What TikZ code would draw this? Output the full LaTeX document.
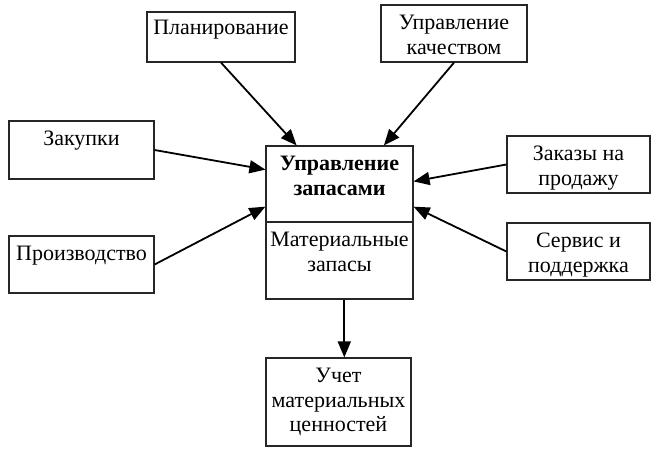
\documentclass[tikz,border=0pt]{standalone}
\usepackage{fontspec}
\setmainfont{Liberation Serif}
\usetikzlibrary{arrows.meta}

\begin{document}
\begin{tikzpicture}[
  x=0.5pt, y=-0.5pt,
  box/.style={draw=black!85, line width=0.6pt, inner sep=0pt},
  txt/.style={anchor=north, align=center, inner sep=5.2pt, font=\fontsize{11}{12.3}\selectfont},
  arr/.style={-{Triangle[length=8pt, width=6.5pt]}, line width=0.9pt}
]
  \useasboundingbox (0,0) rectangle (658,451);

  \node[box, minimum width=74pt, minimum height=25pt, label={[txt, inner sep=4.2pt]north:Планирование}] (plan) at (221,37) {};
  \node[box, minimum width=73pt, minimum height=28.5pt, label={[txt]north:Управление\\качеством}] (kach) at (454,33.5) {};
  \node[box, minimum width=72.5pt, minimum height=29pt, label={[txt]north:Закупки}] (zak) at (81.5,150) {};
  \node[box, minimum width=72.5pt, minimum height=28.5pt, label={[txt]north:Производство}] (proizv) at (81.5,264.5) {};
  \node[box, minimum width=73.5pt, minimum height=38pt, label={[txt]north:\textbf{Управление}\\\textbf{запасами}}] (upr) at (339.5,184) {};
  \node[box, minimum width=73.5pt, minimum height=38.5pt, label={[txt]north:Материальные\\запасы}] (mat) at (339.5,260.5) {};
  \node[box, minimum width=71.5pt, minimum height=28.5pt, label={[txt]north:Заказы на\\продажу}] (zakaz) at (578.5,164.5) {};
  \node[box, minimum width=71.5pt, minimum height=28.5pt, label={[txt]north:Сервис и\\поддержка}] (serv) at (578.5,251.5) {};
  \node[box, minimum width=72.5pt, minimum height=44pt, label={[txt]north:Учет\\материальных\\ценностей}] (uchet) at (338.5,402) {};

  \draw[arr] (plan.south) -- (upr.138);
  \draw[arr] (kach.south) -- (upr.41);
  \draw[arr] (zak.east) -- (upr.169);
  \draw[arr] (proizv.east) -- (upr.197);
  \draw[arr] (zakaz.west) -- (upr.2);
  \draw[arr] (serv.west) -- (upr.343);
  \draw[arr] (mat.-83) -- (mat.-83 |- uchet.north);
\end{tikzpicture}
\end{document}
